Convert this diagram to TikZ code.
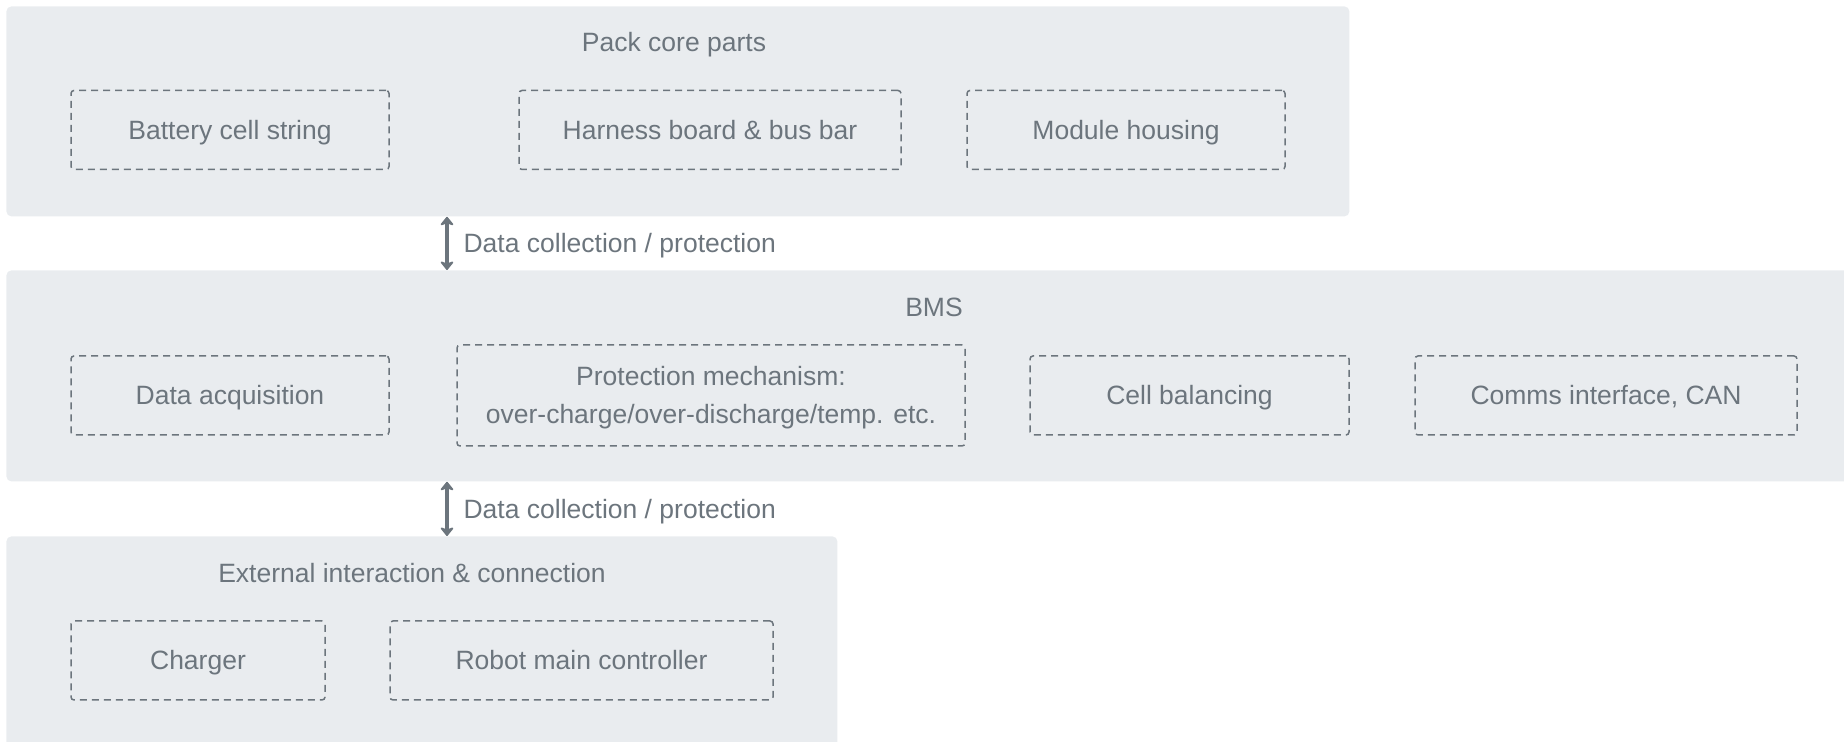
\documentclass[tikz,border=0pt]{standalone}
\usepackage{fontspec}
\setmainfont{Liberation Sans}
\usepackage{xcolor}
\usetikzlibrary{positioning,calc,arrows.meta}

\definecolor{panelgray}{HTML}{E9ECEF}
\definecolor{inkgray}{HTML}{6C757D}

\tikzset{
    panel/.style={fill=panelgray, draw=none, rounded corners=2.5pt, anchor=north west, inner sep=0pt},
    part/.style={draw=inkgray, dash pattern=on 3.5pt off 2.5pt, line width=0.75pt, rounded corners=1.5pt,
                 text=inkgray, align=center, inner sep=0pt, minimum height=39.5pt,
                 text height=12.3pt, text depth=2.8pt},
    paneltitle/.style={text=inkgray, inner sep=0pt, text height=12.3pt, text depth=2.8pt},
    link/.style={draw=inkgray, line width=1.6pt, {Stealth[round,length=5pt,width=8pt,inset=1.5pt]}-{Stealth[round,length=5pt,width=8pt,inset=1.5pt]}},
    linklabel/.style={right, text=inkgray, inner sep=0pt, xshift=7.5pt, text height=12.3pt, text depth=2.8pt}
}

\begin{document}
\begin{tikzpicture}[x=0.5pt, y=-0.5pt, font=\fontsize{13.25}{18.8}\selectfont]
    \useasboundingbox (0,0) rectangle (1844,742);
    \clip (0,0) rectangle (1844,742);

    % Pack core parts
    \node[panel, minimum width=671.5pt, minimum height=105pt] (pack) at (6,6) {};
    \node[paneltitle] (packtitle) at (674,42) {Pack core parts};
    \node[part, minimum width=159pt] (cells) at (230,130) {Battery cell string};
    \node[part, minimum width=191pt] (harness) at (710,130) {Harness board \& bus bar};
    \node[part, minimum width=159pt] (housing) at (1126,130) {Module housing};

    % BMS
    \node[panel, minimum width=932pt, minimum height=105.5pt] (bms) at (6,270) {};
    \node[paneltitle] (bmstitle) at (934,307) {BMS};
    \node[part, minimum width=159pt] (acq) at (230,395.5) {Data acquisition};
    \node[part, minimum width=254pt, minimum height=50.5pt, text height=, text depth=] (protect) at (711,395.5)
        {\rule{0pt}{12pt}Protection mechanism:\\over-charge/over-discharge/temp. etc.};
    \node[part, minimum width=159.5pt] (balance) at (1189.5,395.5) {Cell balancing};
    \node[part, minimum width=191pt] (comms) at (1606,395.5) {Comms interface, CAN};

    % External interaction
    \node[panel, minimum width=415.5pt, minimum height=115pt] (ext) at (6,536) {};
    \node[paneltitle] (exttitle) at (412,573) {External interaction \& connection};
    \node[part, minimum width=127pt] (charger) at (198,660.5) {Charger};
    \node[part, minimum width=191.5pt] (robot) at (581.5,660.5) {Robot main controller};

    % links between layers
    \coordinate (ax) at (447,0);
    \draw[link] (pack.south -| ax) -- node[linklabel] (toplabel) {Data collection / protection} (bms.north -| ax);
    \draw[link] (bms.south -| ax) -- node[linklabel] (botlabel) {Data collection / protection} (ext.north -| ax);
\end{tikzpicture}
\end{document}
